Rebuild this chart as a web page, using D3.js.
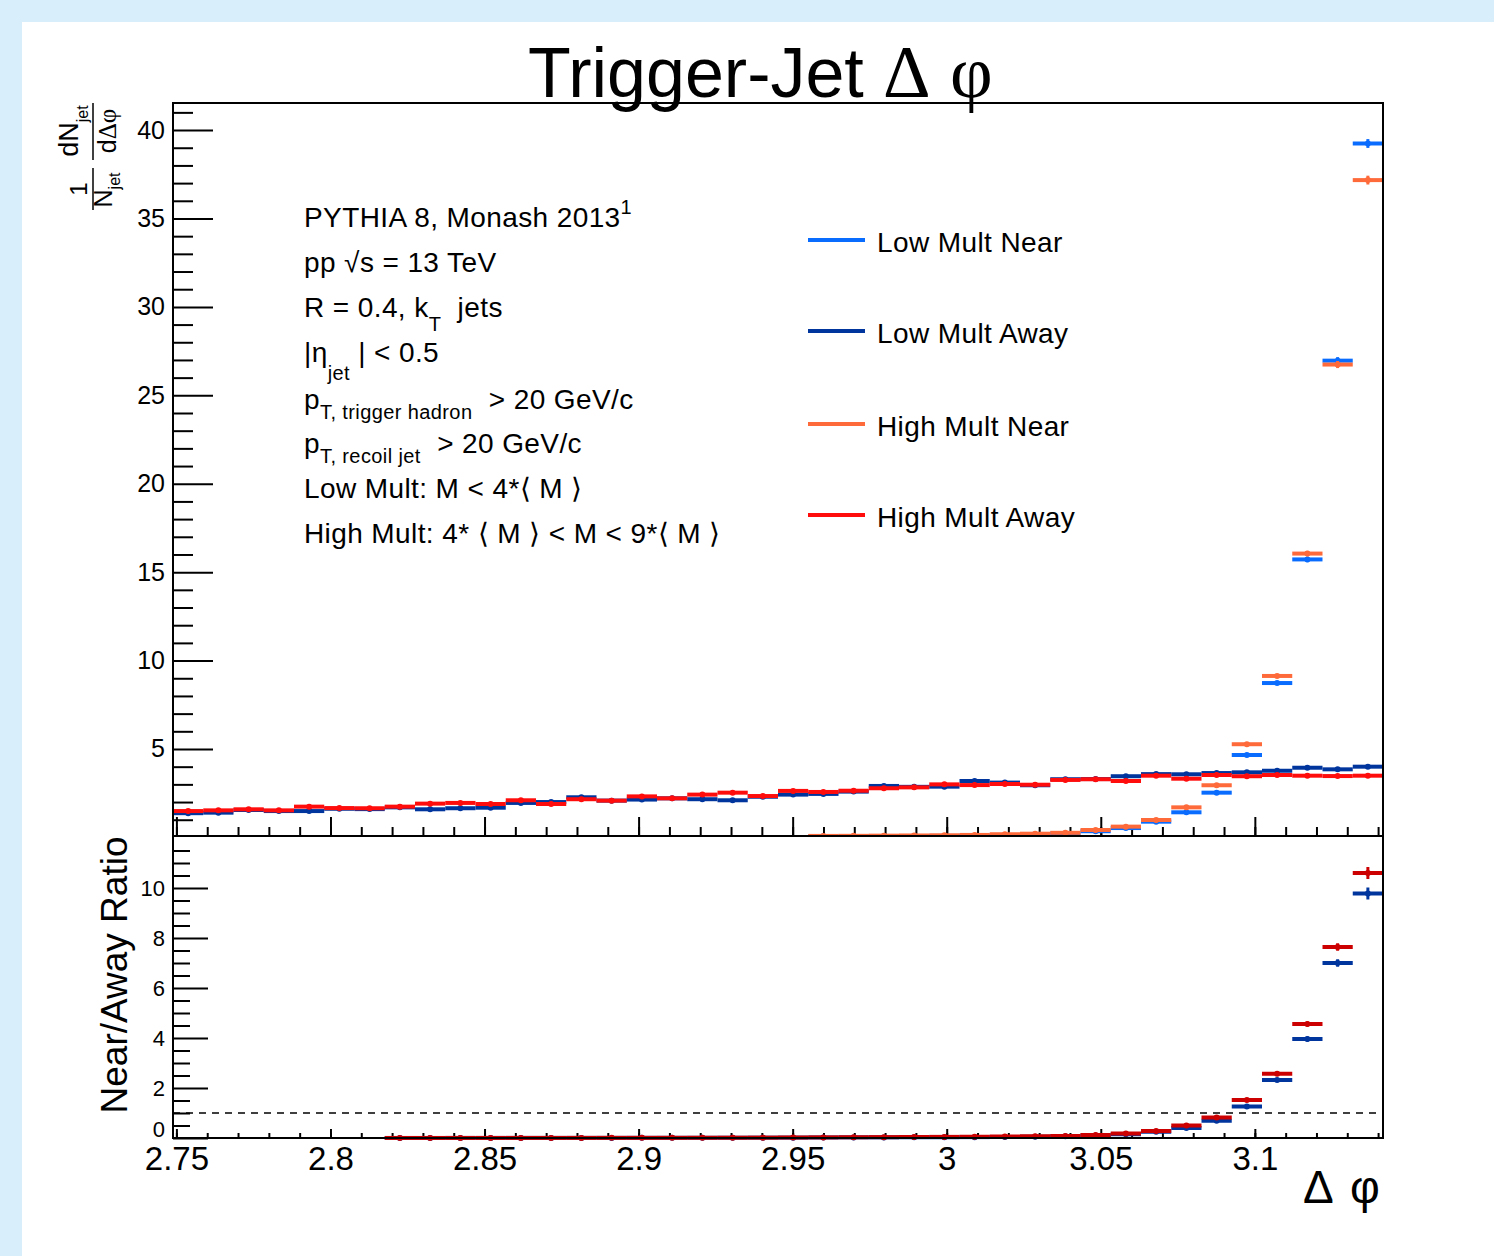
<!DOCTYPE html>
<html>
<head>
<meta charset="utf-8">
<script src="https://cdn.jsdelivr.net/npm/d3@7"></script>
<style>
body { margin: 0; background: #d9eefb; }
text { font-family: "Liberation Sans", Arial, sans-serif; fill: #000; white-space: pre; }
</style>
</head>
<body>
<div id="chart"></div>
<script>
// histogram binning: 40 bins of pi/320 ending at pi
var nBins = 40;
var binW = Math.PI / 320;
var phiMax = Math.PI;
var phiMin = phiMax - nBins * binW;

// upper panel: 1/N dN/dDphi
var lowMultAway = [1.37, 1.40, 1.55, 1.49, 1.49, 1.62, 1.60, 1.70, 1.59, 1.65,
                   1.68, 1.95, 2.00, 2.27, 2.08, 2.14, 2.21, 2.16, 2.10, 2.30,
                   2.42, 2.46, 2.59, 2.91, 2.86, 2.87, 3.19, 3.10, 2.95, 3.29,
                   3.30, 3.46, 3.58, 3.57, 3.64, 3.68, 3.77, 3.94, 3.85, 4.00];
var highMultAway = [1.49, 1.53, 1.59, 1.53, 1.74, 1.66, 1.65, 1.74, 1.91, 1.95,
                    1.89, 2.10, 1.89, 2.16, 2.08, 2.32, 2.21, 2.42, 2.53, 2.34,
                    2.63, 2.57, 2.64, 2.78, 2.83, 3.00, 2.96, 3.02, 2.98, 3.25,
                    3.29, 3.19, 3.49, 3.32, 3.53, 3.46, 3.53, 3.49, 3.47, 3.49];
var lowMultNear = [null, null, null, null, null, null, null, null, null, null,
                   null, null, null, null, null, null, null, null, null, null,
                   null, 0.06, 0.065, 0.07, 0.075, 0.085, 0.10, 0.12, 0.16, 0.22,
                   0.35, 0.53, 0.89, 1.42, 2.53, 4.66, 8.73, 15.72, 26.96, 39.24];
var highMultNear = [null, null, null, null, null, null, null, null, null, null,
                    null, null, null, null, null, null, null, null, null, null,
                    null, 0.085, 0.09, 0.10, 0.11, 0.12, 0.14, 0.18, 0.21, 0.26,
                    0.42, 0.61, 0.985, 1.70, 2.95, 5.27, 9.13, 16.05, 26.74, 37.17];
var nearErr = [0, 0, 0, 0, 0, 0, 0, 0, 0, 0, 0, 0, 0, 0, 0, 0, 0, 0, 0, 0,
               0, 0, 0, 0, 0, 0, 0, 0, 0, 0, 0, 0, 0.03, 0.04, 0.06, 0.08, 0.1, 0.15, 0.2, 0.25];

// lower panel: near / away
var lowRatio = [null, null, null, null, null, null, null, 0.001, 0.001, 0.002,
                0.002, 0.003, 0.003, 0.004, 0.005, 0.006, 0.007, 0.008, 0.01, 0.012,
                0.015, 0.02, 0.025, 0.025, 0.03, 0.03, 0.035, 0.04, 0.05, 0.07,
                0.10, 0.15, 0.25, 0.40, 0.69, 1.26, 2.32, 3.96, 7.00, 9.78];
var highRatio = [null, null, null, null, null, null, null, 0.002, 0.002, 0.003,
                 0.003, 0.004, 0.004, 0.005, 0.006, 0.007, 0.008, 0.01, 0.012, 0.015,
                 0.02, 0.025, 0.03, 0.035, 0.04, 0.045, 0.05, 0.06, 0.07, 0.08,
                 0.12, 0.18, 0.28, 0.50, 0.82, 1.52, 2.57, 4.56, 7.64, 10.6];
var ratioErr = [0, 0, 0, 0, 0, 0, 0, 0, 0, 0, 0, 0, 0, 0, 0, 0, 0, 0, 0, 0,
                0, 0, 0, 0, 0, 0, 0, 0, 0, 0, 0, 0, 0.01, 0.01, 0.02, 0.03, 0.05, 0.1, 0.15, 0.24];

var xMajor = [2.75, 2.8, 2.85, 2.9, 2.95, 3, 3.05, 3.1];
var xMinor = d3.range(275, 315).map(function(d){ return d / 100; });
var yTopMajor = [5, 10, 15, 20, 25, 30, 35, 40];
var yTopMinor = d3.range(1, 42);
var yBotMajor = [0, 2, 4, 6, 8, 10];
var yBotMinor = d3.range(0, 24.5).map(function(d){ return d / 2; });

var legendNames = ["Low Mult Near", "Low Mult Away", "High Mult Near", "High Mult Away"];
var legendColors = ["#0a6cff", "#00359e", "#ff6a3a", "#ff0d0d"];
var ratioColors = ["#00359e", "#cc0000"];

var W = 1494, H = 1256;
var frame = {left: 173, right: 1383, top: 103, mid: 836, bottom: 1138};

var svg = d3.select("#chart").append("svg")
    .attr("width", W).attr("height", H);

svg.append("rect").attr("width", W).attr("height", H).attr("fill", "#d9eefb");
svg.append("rect").attr("x", 22).attr("y", 22).attr("width", W - 22).attr("height", H - 22).attr("fill", "#fff");

var x = d3.scaleLinear().domain([phiMin, phiMax]).range([frame.left, frame.right]);
var yTop = d3.scaleLinear().domain([0.08, 41.53]).range([frame.mid, frame.top]);
var yBot = d3.scaleLinear().domain([0, 12.08]).range([frame.bottom, frame.mid]);

var defs = svg.append("defs");
defs.append("clipPath").attr("id", "clipTop").append("rect")
    .attr("x", frame.left).attr("y", frame.top)
    .attr("width", frame.right - frame.left).attr("height", frame.mid - frame.top);
defs.append("clipPath").attr("id", "clipBot").append("rect")
    .attr("x", frame.left).attr("y", frame.mid)
    .attr("width", frame.right - frame.left).attr("height", frame.bottom - frame.mid + 3);

function styleAxis(g) {
  g.select(".domain").remove();
  g.selectAll(".tick line").attr("stroke", "#000").attr("stroke-width", 2);
}

// ---- upper panel axes
var gTop = svg.append("g");
gTop.append("g").attr("transform", "translate(" + frame.left + ",0)")
  .call(d3.axisLeft(yTop).tickValues(yTopMinor.filter(function(d){ return d % 5 != 0; }))
        .tickSize(-20).tickFormat(""))
  .call(styleAxis);
gTop.append("g").attr("transform", "translate(" + frame.left + ",0)")
  .call(d3.axisLeft(yTop).tickValues(yTopMajor).tickSize(-40).tickPadding(8)
        .tickFormat(d3.format("d")))
  .call(styleAxis)
  .selectAll("text").attr("font-size", 25).attr("font-family", "Liberation Sans, Arial, sans-serif");
gTop.append("g").attr("transform", "translate(0," + frame.mid + ")")
  .call(d3.axisBottom(x).tickValues(xMinor).tickSize(-9).tickFormat(""))
  .call(styleAxis);
gTop.append("g").attr("transform", "translate(0," + frame.mid + ")")
  .call(d3.axisBottom(x).tickValues(xMajor).tickSize(-19).tickFormat(""))
  .call(styleAxis);

// ---- lower panel axes
var gBot = svg.append("g");
gBot.append("g").attr("transform", "translate(" + frame.left + ",0)")
  .call(d3.axisLeft(yBot).tickValues(yBotMinor.filter(function(d){ return d % 2 != 0; }))
        .tickSize(-17).tickFormat(""))
  .call(styleAxis);
gBot.append("g").attr("transform", "translate(" + frame.left + ",0)")
  .call(d3.axisLeft(yBot).tickValues(yBotMajor).tickSize(-35).tickPadding(8)
        .tickFormat(d3.format("d")))
  .call(styleAxis)
  .selectAll("text").attr("font-size", 22).attr("font-family", "Liberation Sans, Arial, sans-serif")
  .attr("y", function(d){ return d == 0 ? -9 : 0; });
gBot.append("g").attr("transform", "translate(0," + frame.bottom + ")")
  .call(d3.axisBottom(x).tickValues(xMinor).tickSize(-5).tickFormat(""))
  .call(styleAxis);
gBot.append("g").attr("transform", "translate(0," + frame.bottom + ")")
  .call(d3.axisBottom(x).tickValues(xMajor).tickSize(-9).tickPadding(9)
        .tickFormat(function(d){ return String(d); }))
  .call(styleAxis)
  .selectAll("text").attr("font-size", 33).attr("font-family", "Liberation Sans, Arial, sans-serif");

// dashed unity line
svg.append("line")
  .attr("x1", frame.left).attr("x2", frame.right)
  .attr("y1", yBot(1)).attr("y2", yBot(1))
  .attr("stroke", "#000").attr("stroke-width", 1.5).attr("stroke-dasharray", "7,6");

// ---- histograms
function drawHist(g, y, vals, errs, color) {
  var pts = vals.map(function(v, i){ return {i: i, v: v, e: errs ? errs[i] : 0}; })
    .filter(function(d){ return d.v != null; });
  var s = g.append("g");
  s.selectAll("line.h").data(pts).enter().append("line").attr("class", "h")
    .attr("x1", function(d){ return x(phiMin + d.i * binW); })
    .attr("x2", function(d){ return x(phiMin + (d.i + 1) * binW); })
    .attr("y1", function(d){ return y(d.v); })
    .attr("y2", function(d){ return y(d.v); })
    .attr("stroke", color).attr("stroke-width", 4);
  s.selectAll("line.v").data(pts.filter(function(d){ return d.e > 0; })).enter().append("line").attr("class", "v")
    .attr("x1", function(d){ return x(phiMin + (d.i + 0.5) * binW); })
    .attr("x2", function(d){ return x(phiMin + (d.i + 0.5) * binW); })
    .attr("y1", function(d){ return y(d.v - d.e); })
    .attr("y2", function(d){ return y(d.v + d.e); })
    .attr("stroke", color).attr("stroke-width", 3);
  s.selectAll("circle").data(pts).enter().append("circle")
    .attr("cx", function(d){ return x(phiMin + (d.i + 0.5) * binW); })
    .attr("cy", function(d){ return y(d.v); })
    .attr("r", 3).attr("fill", color);
}

var plotTop = svg.append("g").attr("clip-path", "url(#clipTop)");
drawHist(plotTop, yTop, lowMultNear, nearErr, legendColors[0]);
drawHist(plotTop, yTop, lowMultAway, null, legendColors[1]);
drawHist(plotTop, yTop, highMultNear, nearErr, legendColors[2]);
drawHist(plotTop, yTop, highMultAway, null, legendColors[3]);

var plotBot = svg.append("g").attr("clip-path", "url(#clipBot)");
drawHist(plotBot, yBot, lowRatio, ratioErr, ratioColors[0]);
drawHist(plotBot, yBot, highRatio, ratioErr, ratioColors[1]);

// frames
svg.append("rect").attr("x", frame.left).attr("y", frame.top)
  .attr("width", frame.right - frame.left).attr("height", frame.mid - frame.top)
  .attr("fill", "none").attr("stroke", "#000").attr("stroke-width", 2);
svg.append("rect").attr("x", frame.left).attr("y", frame.mid)
  .attr("width", frame.right - frame.left).attr("height", frame.bottom - frame.mid)
  .attr("fill", "none").attr("stroke", "#000").attr("stroke-width", 2);

// ---- title
var title = svg.append("text").attr("x", 528).attr("y", 97).attr("font-size", 70);
title.append("tspan").text("Trigger-Jet");
title.append("tspan").attr("x", 883).attr("font-family", "Liberation Serif, serif").attr("font-size", 74).text("Δ");
title.append("tspan").attr("x", 950).attr("font-family", "Liberation Serif, serif").attr("font-size", 74).text("φ");

// x axis title
var xt = svg.append("text").attr("x", 1303).attr("y", 1203).attr("font-size", 46)
  .attr("font-family", "Liberation Serif, serif");
xt.append("tspan").text("Δ");
xt.append("tspan").attr("x", 1350).text("φ");

// lower y title
svg.append("text").attr("transform", "translate(127,975) rotate(-90)")
  .attr("text-anchor", "middle").attr("font-size", 37).text("Near/Away Ratio");

// upper y title: 1/N_jet dN_jet/dΔφ (rotated)
var yt = svg.append("g").attr("transform", "translate(93,0) rotate(-90)");
yt.append("line").attr("x1", -210).attr("x2", -168).attr("y1", 0).attr("y2", 0)
  .attr("stroke", "#000").attr("stroke-width", 1.5);
yt.append("text").attr("x", -189).attr("y", -6).attr("text-anchor", "middle")
  .attr("font-size", 24).text("1");
var yd1 = yt.append("text").attr("x", -190).attr("y", 19).attr("text-anchor", "middle").attr("font-size", 25);
yd1.append("tspan").text("N");
yd1.append("tspan").attr("dy", 8).attr("font-size", 16).text("jet");
yt.append("line").attr("x1", -160).attr("x2", -103).attr("y1", 0).attr("y2", 0)
  .attr("stroke", "#000").attr("stroke-width", 1.5);
var yn2 = yt.append("text").attr("x", -131).attr("y", -15).attr("text-anchor", "middle").attr("font-size", 27);
yn2.append("tspan").text("dN");
yn2.append("tspan").attr("dy", 10).attr("font-size", 16).text("jet");
var yd2 = yt.append("text").attr("x", -131).attr("y", 23).attr("text-anchor", "middle").attr("font-size", 25);
yd2.append("tspan").text("d");
yd2.append("tspan").attr("font-family", "Liberation Serif, serif").text("Δφ");

// ---- info text block
var info = [
  {y: 227, parts: [{t: "PYTHIA 8, Monash 2013"}, {t: "1", s: -13}]},
  {y: 272, parts: [{t: "pp √s = 13 TeV"}]},
  {y: 317, parts: [{t: "R = 0.4, k"}, {t: "T", s: 14}, {t: "  jets"}]},
  {y: 362, parts: [{t: "|η"}, {t: "jet", s: 18}, {t: " | < 0.5"}]},
  {y: 409, parts: [{t: "p"}, {t: "T, trigger hadron", s: 10}, {t: "  > 20 GeV/c"}]},
  {y: 453, parts: [{t: "p"}, {t: "T, recoil jet", s: 10}, {t: "  > 20 GeV/c"}]},
  {y: 498, parts: [{t: "Low Mult: M < 4*⟨ M ⟩"}]},
  {y: 543, parts: [{t: "High Mult: 4* ⟨ M ⟩ < M < 9*⟨ M ⟩"}]}
];
info.forEach(function(line) {
  var t = svg.append("text").attr("x", 304).attr("y", line.y)
    .attr("font-size", 28).attr("letter-spacing", 0.4);
  var shift = 0;
  line.parts.forEach(function(p) {
    var target = p.s || 0;
    t.append("tspan").attr("dy", target - shift)
      .attr("font-size", p.s ? 20 : 28).text(p.t);
    shift = target;
  });
});

// ---- legend
var legendY = [240, 331, 424, 515];
var leg = svg.append("g");
legendNames.forEach(function(name, i) {
  leg.append("line").attr("x1", 808).attr("x2", 865)
    .attr("y1", legendY[i]).attr("y2", legendY[i])
    .attr("stroke", legendColors[i]).attr("stroke-width", 4);
  leg.append("text").attr("x", 877).attr("y", legendY[i] + 12)
    .attr("font-size", 28).attr("letter-spacing", 0.4).text(name);
});
</script>
</body>
</html>
